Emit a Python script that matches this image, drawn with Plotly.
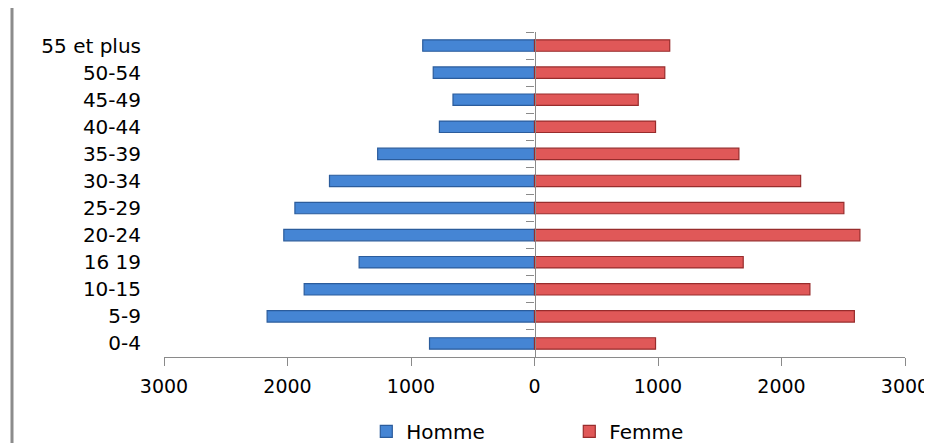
import plotly.graph_objects as go

categories = ["0-4", "5-9", "10-15", "16 19", "20-24", "25-29", "30-34",
              "35-39", "40-44", "45-49", "50-54", "55 et plus"]
homme = [850, 2165, 1865, 1420, 2030, 1940, 1660, 1270, 770, 660, 820, 905]
femme = [980, 2590, 2230, 1690, 2635, 2505, 2155, 1655, 980, 840, 1055, 1095]
x_tickvals = [-3000, -2000, -1000, 0, 1000, 2000, 3000]
x_ticktext = ["3000", "2000", "1000", "0", "1000", "2000", "3000"]

FONT = "DejaVu Sans"

fig = go.Figure()
fig.add_trace(go.Bar(
    y=categories, x=[-v for v in homme], orientation="h", name="Homme",
    marker=dict(color="#4585D4", line=dict(color="#2B5C9C", width=1.2)),
    yaxis="y",
))
fig.add_trace(go.Bar(
    y=categories, x=femme, orientation="h", name="Femme",
    marker=dict(color="#E05858", line=dict(color="#982C2C", width=1.2)),
    yaxis="y2",
))

fig.update_layout(
    width=924, height=435,
    margin=dict(l=156, r=27, t=24, b=86, autoexpand=False),
    paper_bgcolor="white", plot_bgcolor="white",
    font=dict(family=FONT, size=20, color="black"),
    barmode="relative", bargap=0.58,
    showlegend=True,
    legend=dict(orientation="h", x=0.273, xanchor="left", y=-0.289, yanchor="bottom",
                entrywidth=158, font=dict(size=20), itemwidth=30),
    xaxis=dict(range=[-3000, 3000], tickvals=x_tickvals, ticktext=x_ticktext,
               showgrid=False, zeroline=False, showline=True, linecolor="#8a8a8a",
               linewidth=1.3, ticks="outside", ticklen=8, tickcolor="#8a8a8a",
               ticklabelstandoff=4, tickfont=dict(size=19), automargin=False,
               ticklabeloverflow="allow", fixedrange=True),
    yaxis=dict(categoryorder="array", categoryarray=categories, showgrid=False,
               zeroline=False, showline=False, ticks="", ticklabelstandoff=22,
               automargin=False),
    yaxis2=dict(categoryorder="array", categoryarray=categories, overlaying="y",
                anchor="free", position=0.5, side="left", showgrid=False,
                zeroline=False, showline=True, linecolor="#8a8a8a", linewidth=1.3,
                ticks="outside", ticklen=8, tickcolor="#8a8a8a", tickson="boundaries",
                showticklabels=False, automargin=False),
    shapes=[dict(type="line", xref="paper", yref="paper", xsizemode="pixel",
                 xanchor=0, x0=-152, x1=-152, y0=-0.3, y1=1.1,
                 line=dict(color="#8c8c8c", width=3))],
)

fig.write_html("out.html")
